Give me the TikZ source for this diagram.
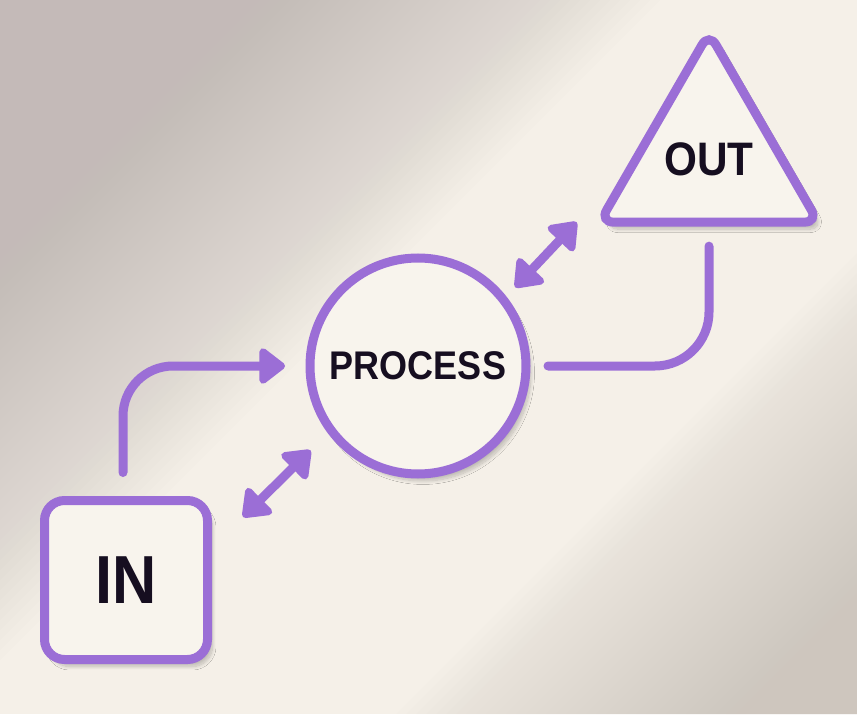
\documentclass[tikz,border=0pt]{standalone}
\usepackage{fontspec}
\newfontfamily\lblfont[FakeStretch=0.9]{Liberation Sans}
\usetikzlibrary{arrows.meta,shapes.geometric,shadows.blur}
\definecolor{lilac}{RGB}{155,110,214}
\definecolor{ink}{RGB}{22,14,32}
\definecolor{paper}{RGB}{248,244,237}
\definecolor{wall}{RGB}{245,240,232}
\definecolor{shadeA}{RGB}{196,186,184}
\definecolor{shadeB}{RGB}{206,198,190}

\begin{document}
\begin{tikzpicture}[x=0.5pt, y=0.5pt,
	box/.style={draw=lilac, line width=4.5pt, fill=paper, outer sep=0pt, inner sep=0pt, text=ink,
		blur shadow={shadow xshift=2.5pt, shadow yshift=-3.5pt, shadow opacity=22, shadow blur steps=12}},
	flow/.style={draw=lilac, line width=4.5pt, line cap=round, line join=round},
	>={Triangle[length=14pt, width=20.5pt, round]}]
				\useasboundingbox (0,0) rectangle (857,714);
				% wall with a soft light band
				\begin{scope}
					\clip (0,0) rectangle (857,714);
					\fill[wall] (0,0) rectangle (857,714);
					\foreach \c in {100,110,...,660}
						\fill[shadeA, opacity=0.035] (0,714-\c) -- (\c,714) -- (0,714) -- cycle;
					\foreach \d in {1110,1120,...,1500}
						\fill[shadeB, opacity=0.035] (\d-714,0) -- (857,0) -- (857,1571-\d) -- cycle;
				\end{scope}
				\node[box, rectangle, rounded corners=10pt, minimum width=81.5pt, minimum height=79.5pt, font=\lblfont\bfseries\fontsize{34}{34}\selectfont] (IN)at(126, 134) {IN};
				\node[box, circle, minimum size=108pt, font=\lblfont\bfseries\fontsize{20}{20}\selectfont] (PROC)at(418, 348) {PROCESS};
				\node[box, regular polygon, regular polygon sides=3, minimum size=119pt, rounded corners=7pt, font=\lblfont\bfseries\fontsize{23.5}{23.5}\selectfont] (OUT)at(709, 555) {OUT};
				\draw[flow, ->, rounded corners=25pt] ([xshift=-1.5pt, yshift=14pt]IN.north) |- ([xshift=-12.5pt]PROC.west);
				\draw[flow, rounded corners=27pt] ([xshift=11pt]PROC.east) -| ([yshift=-12pt]OUT.south);
				\draw[flow, <->] ([shift={(17.75pt,-8.25pt)}]IN.north east) -- ([shift={(218.5:14.3pt)}]PROC.218.5);
				\draw[flow, <->] ([shift={(39:8.5pt)}]PROC.39) -- ([xshift=-11.5pt]OUT.corner 2);
			\end{tikzpicture}
\end{document}
